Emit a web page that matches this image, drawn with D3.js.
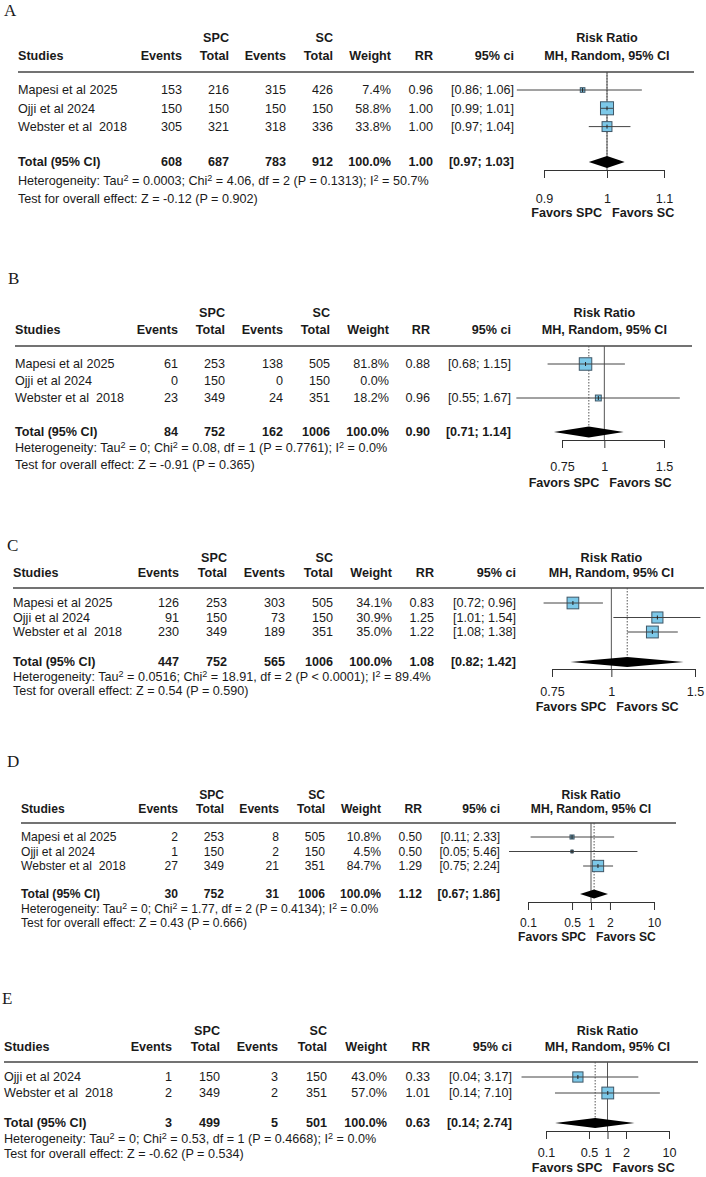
<!DOCTYPE html>
<html><head><meta charset="utf-8">
<script src="https://cdn.jsdelivr.net/npm/d3@7"></script>
<style>
body{margin:0;background:#fff}
text{font-family:"Liberation Sans",Arial,Helvetica,sans-serif;white-space:pre}
</style>
</head><body>
<svg id="c" width="706" height="1177"></svg>
<script>
// ---------------- DATA ----------------
const panelLabels = ["A","B","C","D","E"];
const studies = [
  ["Mapesi et al 2025","Ojji et al 2024","Webster et al  2018"],
  ["Mapesi et al 2025","Ojji et al 2024","Webster et al  2018"],
  ["Mapesi et al 2025","Ojji et al 2024","Webster et al  2018"],
  ["Mapesi et al 2025","Ojji et al 2024","Webster et al  2018"],
  ["Ojji et al 2024","Webster et al  2018"]
];
const spcEvents = [[153,150,305],[61,0,23],[126,91,230],[2,1,27],[1,2]];
const spcTotal  = [[216,150,321],[253,150,349],[253,150,349],[253,150,349],[150,349]];
const scEvents  = [[315,150,318],[138,0,24],[303,73,189],[8,2,21],[3,2]];
const scTotal   = [[426,150,336],[505,150,351],[505,150,351],[505,150,351],[150,351]];
const weights   = [[7.4,58.8,33.8],[81.8,0.0,18.2],[34.1,30.9,35.0],[10.8,4.5,84.7],[43.0,57.0]];
const rr        = [[0.96,1.00,1.00],[0.88,null,0.96],[0.83,1.25,1.22],[0.50,0.50,1.29],[0.33,1.01]];
const ciLow     = [[0.86,0.99,0.97],[0.68,null,0.55],[0.72,1.01,1.08],[0.11,0.05,0.75],[0.04,0.14]];
const ciHigh    = [[1.06,1.01,1.04],[1.15,null,1.67],[0.96,1.54,1.38],[2.33,5.46,2.24],[3.17,7.10]];
const totalSpcEvents = [608,84,447,30,3];
const totalSpcN      = [687,752,752,752,499];
const totalScEvents  = [783,162,565,31,5];
const totalScN       = [912,1006,1006,1006,501];
const totalWeight    = ["100.0%","100.0%","100.0%","100.0%","100.0%"];
const pooledRR   = [1.00,0.90,1.08,1.12,0.63];
const pooledLow  = [0.97,0.71,0.82,0.67,0.14];
const pooledHigh = [1.03,1.14,1.42,1.86,2.74];
const tau2 = ["0.0003","0","0.0516","0","0"];
const chi2 = ["4.06","0.08","18.91","1.77","0.53"];
const dfs  = [2,1,2,2,1];
const pHet = ["P = 0.1313","P = 0.7761","P < 0.0001","P = 0.4134","P = 0.4668"];
const i2   = ["50.7%","0.0%","89.4%","0.0%","0.0%"];
const zStat    = ["-0.12","-0.91","0.54","0.43","-0.62"];
const pOverall = ["0.902","0.365","0.590","0.666","0.534"];
const axisTicks = [[0.9,1,1.1],[0.75,1,1.5],[0.75,1,1.5],[0.1,0.5,1,2,10],[0.1,0.5,1,2,10]];
const colHeaders = ["Studies","Events","Total","Events","Total","Weight","RR","95% ci"];
const groupHeaders = ["SPC","SC"];
const plotHeaders = ["Risk Ratio","MH, Random, 95% CI"];
const favorsLabels = ["Favors SPC","Favors SC"];

// ---------------- LAYOUT ----------------
const layouts = [
 {lx:4, ly:10, h1:38, h2:56, hl:72, row0:90, step:18.3, ty:162, hy:181, sy:199,
  cols:[18,182,229,286,333,391,433,514], xr:[544,664], ay:170, tly:199, fy:213, le:694, k:1.7, dh:6, fs:12.6},
 {lx:8, ly:278, h1:313, h2:330, hl:346, row0:364, step:17, ty:432, hy:448, sy:465,
  cols:[15,178,225,283,330,389,430,511], xr:[562,664], ay:440, tly:467, fy:483, le:692, k:1.38, dh:5.5, fs:12.6},
 {lx:7, ly:545, h1:558, h2:573, hl:588, row0:603, step:14.5, ty:662, hy:677, sy:691,
  cols:[13,179,227,285,333,392,434,516], xr:[552,695], ay:669, tly:692, fy:707, le:704, k:2.0, dh:5, fs:12.6},
 {lx:7, ly:761, h1:795, h2:809, hl:823, row0:837, step:14.5, ty:894, hy:909, sy:923,
  cols:[21,178,224,279,325,381,422,500], xr:[528,654], ay:902, tly:923, fy:937, le:676, k:1.23, dh:4.5, fs:12.1},
 {lx:2, ly:998, h1:1031, h2:1047, hl:1062, row0:1077, step:16, ty:1123, hy:1139, sy:1154,
  cols:[4,172,220,278,327,387,430,512], xr:[546,669], ay:1131, tly:1153, fy:1168, le:698, k:1.56, dh:5, fs:12.6}
];

const TXT = "#1a1a1a";
const svg = d3.select("#c");
const f2 = d3.format(".2f"), f1 = d3.format(".1f");

panelLabels.forEach((lab, i) => {
  const L = layouts[i];
  const g = svg.append("g");
  const ticks = axisTicks[i];
  const x = d3.scaleLog().domain([ticks[0], ticks[ticks.length-1]]).range(L.xr);
  const y = d3.scaleLinear().domain([0,1]).range([L.row0, L.row0 + L.step]);
  const x1 = x(1);
  const txt = (xx, yy, s, anchor, bold, fs) => g.append("text")
      .attr("x", xx).attr("y", yy).attr("dy","0.35em")
      .attr("text-anchor", anchor || "start")
      .attr("font-weight", bold ? "bold" : "normal")
      .attr("font-size", fs || L.fs).attr("fill", TXT).text(s);

  // panel letter
  g.append("text").attr("x", L.lx).attr("y", L.ly).attr("dy","0.35em")
    .style("font-family","'Liberation Serif','Times New Roman',serif")
    .attr("font-size", 17).attr("fill", TXT).text(lab);

  // headers
  txt(L.cols[2], L.h1, groupHeaders[0], "end", true);
  txt(L.cols[4], L.h1, groupHeaders[1], "end", true);
  txt(x1, L.h1, plotHeaders[0], "middle", true);
  colHeaders.forEach((h, j) => txt(L.cols[j], L.h2, h, j === 0 ? "start" : "end", true));
  txt(x1, L.h2, plotHeaders[1], "middle", true);
  g.append("line").attr("x1", L.cols[0]).attr("x2", L.le).attr("y1", L.hl).attr("y2", L.hl)
    .attr("stroke", "#444").attr("stroke-width", 1.3);

  // reference lines
  g.append("line").attr("x1", x1).attr("x2", x1).attr("y1", L.hl).attr("y2", L.ay)
    .attr("stroke", "#555").attr("stroke-width", 1);
  const xp = x(pooledRR[i]);
  g.append("line").attr("x1", xp).attr("x2", xp).attr("y1", L.hl).attr("y2", L.ty - L.dh)
    .attr("stroke", "#555").attr("stroke-width", 1).attr("stroke-dasharray", "1.5,1.5");

  // study rows
  studies[i].forEach((s, j) => {
    const yy = y(j);
    txt(L.cols[0], yy, s, "start");
    txt(L.cols[1], yy, String(spcEvents[i][j]), "end");
    txt(L.cols[2], yy, String(spcTotal[i][j]), "end");
    txt(L.cols[3], yy, String(scEvents[i][j]), "end");
    txt(L.cols[4], yy, String(scTotal[i][j]), "end");
    txt(L.cols[5], yy, f1(weights[i][j]) + "%", "end");
    if (rr[i][j] != null) {
      txt(L.cols[6], yy, f2(rr[i][j]), "end");
      txt(L.cols[7], yy, "[" + f2(ciLow[i][j]) + "; " + f2(ciHigh[i][j]) + "]", "end");
      const side = L.k * Math.sqrt(weights[i][j]);
      const cx = x(rr[i][j]);
      g.append("rect").attr("x", cx - side/2).attr("y", yy - side/2)
        .attr("width", side).attr("height", side)
        .attr("fill", "#7cc8e8").attr("stroke", "#3f5666").attr("stroke-width", 1);
      g.append("line").attr("x1", x(ciLow[i][j])).attr("x2", x(ciHigh[i][j]))
        .attr("y1", yy).attr("y2", yy).attr("stroke", "#444").attr("stroke-width", 1);
      g.append("line").attr("x1", cx).attr("x2", cx).attr("y1", yy - 2).attr("y2", yy + 2)
        .attr("stroke", "#222").attr("stroke-width", 1);
    }
  });

  // total row
  txt(L.cols[0], L.ty, "Total (95% CI)", "start", true);
  txt(L.cols[1], L.ty, String(totalSpcEvents[i]), "end", true);
  txt(L.cols[2], L.ty, String(totalSpcN[i]), "end", true);
  txt(L.cols[3], L.ty, String(totalScEvents[i]), "end", true);
  txt(L.cols[4], L.ty, String(totalScN[i]), "end", true);
  txt(L.cols[5], L.ty, totalWeight[i], "end", true);
  txt(L.cols[6], L.ty, f2(pooledRR[i]), "end", true);
  txt(L.cols[7], L.ty, "[" + f2(pooledLow[i]) + "; " + f2(pooledHigh[i]) + "]", "end", true);
  g.append("path").attr("d", d3.line()([
      [x(pooledLow[i]), L.ty], [xp, L.ty - L.dh], [x(pooledHigh[i]), L.ty], [xp, L.ty + L.dh]
    ]) + "Z").attr("fill", "#000");

  // heterogeneity with superscripts
  const het = g.append("text").attr("x", L.cols[0]).attr("y", L.hy).attr("dy","0.35em")
    .attr("font-size", L.fs).attr("fill", TXT);
  const parts = [
    ["Heterogeneity: Tau", false], ["2", true], [" = " + tau2[i] + "; Chi", false], ["2", true],
    [" = " + chi2[i] + ", df = " + dfs[i] + " (" + pHet[i] + "); I", false], ["2", true],
    [" = " + i2[i], false]
  ];
  let prevSup = false;
  parts.forEach(([t, sup]) => {
    const ts = het.append("tspan").text(t);
    if (sup) ts.attr("dy", "-0.45em").attr("font-size", L.fs * 0.72);
    else if (prevSup) ts.attr("dy", (0.45 * L.fs * 0.72) + "px");
    prevSup = sup;
  });
  txt(L.cols[0], L.sy, "Test for overall effect: Z = " + zStat[i] + " (P = " + pOverall[i] + ")", "start");

  // axis
  const ax = g.append("g").attr("transform", "translate(0," + L.ay + ")")
    .call(d3.axisBottom(x).tickValues(ticks).tickFormat(d => String(d)).tickSize(8).tickSizeOuter(0));
  ax.select(".domain").attr("stroke", "#333");
  ax.selectAll(".tick line").attr("stroke", "#333");
  ax.selectAll("text").attr("y", L.tly - L.ay).attr("dy", "0.35em")
    .attr("font-size", L.fs).attr("fill", TXT)
    .style("font-family", "'Liberation Sans',Arial,sans-serif");

  txt(x1 - 5, L.fy, favorsLabels[0], "end", true);
  txt(x1 + 5, L.fy, favorsLabels[1], "start", true);
});
</script>
</body></html>
